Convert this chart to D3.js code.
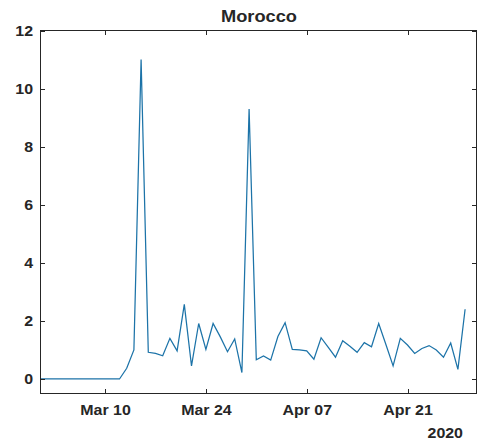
<!DOCTYPE html>
<html>
<head>
<meta charset="utf-8">
<script src="https://cdn.jsdelivr.net/npm/d3@7"></script>
<style>
  html, body { margin: 0; padding: 0; background: #fff; }
  svg { display: block; }
  text { font-family: "Liberation Sans", Arial, Helvetica, sans-serif; font-weight: bold; fill: #262626; }
</style>
</head>
<body>
<div id="chart"></div>
<script>
// Daily series for Morocco, starting 1 March 2020
const startDate = "2020-03-01";
const values = [
  0, 0, 0, 0, 0, 0, 0, 0, 0, 0,
  0, 0, 0.37, 1.0, 11.0, 0.92, 0.88, 0.8, 1.4, 0.97,
  2.57, 0.45, 1.91, 1.02, 1.91, 1.45, 0.94, 1.38, 0.22, 9.3,
  0.66, 0.79, 0.65, 1.46, 1.94, 1.02, 1.0, 0.97, 0.68, 1.42,
  1.09, 0.75, 1.32, 1.13, 0.92, 1.25, 1.11, 1.91, 1.19, 0.45,
  1.4, 1.17, 0.88, 1.05, 1.15, 1.0, 0.75, 1.24, 0.33, 2.4
];
const yTicks = [0, 2, 4, 6, 8, 10, 12];
const xTickDates = ["2020-03-10", "2020-03-24", "2020-04-07", "2020-04-21"];
const xTickLabels = ["Mar 10", "Mar 24", "Apr 07", "Apr 21"];
const yearLabel = "2020";
const title = "Morocco";

const W = 477, H = 441;
const box = { left: 40.5, right: 476.5, top: 30.5, bottom: 393.5 };
const stretch = 1.14; // wide bold lettering

const parse = d3.utcParse("%Y-%m-%d");
const t0 = parse(startDate);
const data = values.map((v, i) => ({ date: d3.utcDay.offset(t0, i), v }));

const x = d3.scaleUtc()
  .domain([t0, parse("2020-04-30")])
  .range([40.3, 472.3]);
const y = d3.scaleLinear()
  .domain([-0.5, 12])
  .range([box.bottom, box.top]);

const svg = d3.select("#chart").append("svg")
  .attr("width", W).attr("height", H);

// data line
svg.append("path")
  .datum(data)
  .attr("fill", "none")
  .attr("stroke", "#1c73a8")
  .attr("stroke-width", 1.25)
  .attr("stroke-linejoin", "miter")
  .attr("d", d3.line().x(d => x(d.date)).y(d => y(d.v)));

// axes box
svg.append("rect")
  .attr("x", box.left).attr("y", box.top)
  .attr("width", box.right - box.left).attr("height", box.bottom - box.top)
  .attr("fill", "none").attr("stroke", "#262626").attr("stroke-width", 1);

const tickLen = 4.5;
const xt = xTickDates.map(parse);

// x ticks, bottom and top, pointing inward
svg.append("g").selectAll("line").data(xt).join("line")
  .attr("x1", d => Math.round(x(d)) + 0.5).attr("x2", d => Math.round(x(d)) + 0.5)
  .attr("y1", box.bottom).attr("y2", box.bottom - tickLen)
  .attr("stroke", "#262626");
svg.append("g").selectAll("line").data(xt).join("line")
  .attr("x1", d => Math.round(x(d)) + 0.5).attr("x2", d => Math.round(x(d)) + 0.5)
  .attr("y1", box.top).attr("y2", box.top + tickLen)
  .attr("stroke", "#262626");

// y ticks, left and right, pointing inward
svg.append("g").selectAll("line").data(yTicks).join("line")
  .attr("x1", box.left).attr("x2", box.left + tickLen)
  .attr("y1", d => Math.round(y(d)) + 0.5).attr("y2", d => Math.round(y(d)) + 0.5)
  .attr("stroke", "#262626");
svg.append("g").selectAll("line").data(yTicks).join("line")
  .attr("x1", box.right).attr("x2", box.right - tickLen)
  .attr("y1", d => Math.round(y(d)) + 0.5).attr("y2", d => Math.round(y(d)) + 0.5)
  .attr("stroke", "#262626");

const place = (px, py) => `translate(${px},${py}) scale(${stretch},1)`;

// y tick labels
svg.append("g").selectAll("text").data(yTicks).join("text")
  .attr("transform", d => place(33, y(d) + 5))
  .attr("text-anchor", "end")
  .attr("font-size", 14)
  .text(d => d);

// x tick labels
svg.append("g").selectAll("text").data(xt).join("text")
  .attr("transform", d => place(x(d) + 0.5, 415))
  .attr("text-anchor", "middle")
  .attr("font-size", 14)
  .text((d, i) => xTickLabels[i]);

// year label under the last tick
svg.append("text")
  .attr("transform", place(463, 438))
  .attr("text-anchor", "end")
  .attr("font-size", 14)
  .text(yearLabel);

// title
svg.append("text")
  .attr("transform", place(259, 21.5))
  .attr("text-anchor", "middle")
  .attr("font-size", 16)
  .text(title);
</script>
</body>
</html>
